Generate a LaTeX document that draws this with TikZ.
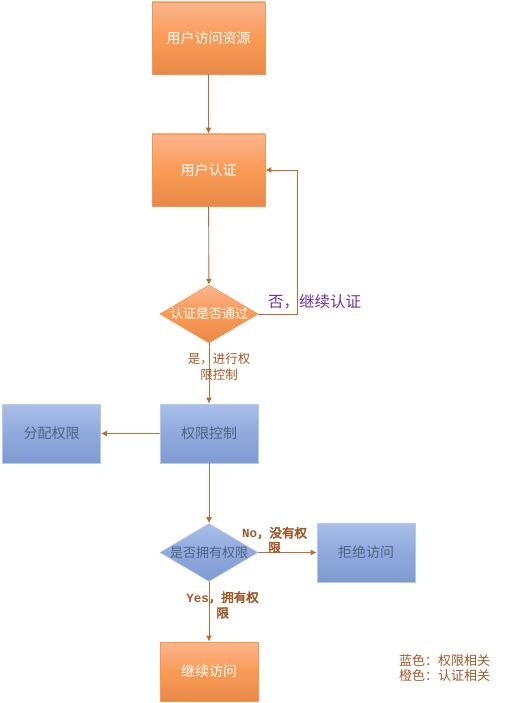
\documentclass[tikz,border=0pt]{standalone}
\usepackage{fontspec}
\setmainfont{Noto Sans CJK SC}[AutoFakeBold=3.5]
\newfontfamily\monofnt{Liberation Mono}
\usetikzlibrary{shapes.geometric,arrows.meta,calc}
\definecolor{orT}{HTML}{FBB48E}
\definecolor{orM}{HTML}{F99A55}
\definecolor{orB}{HTML}{E8894A}
\definecolor{orD}{HTML}{F79646}
\definecolor{blT}{HTML}{AABFE8}
\definecolor{blM}{HTML}{8FA9DD}
\definecolor{blB}{HTML}{7E9BCF}
\definecolor{blD}{HTML}{B6C8EA}
\definecolor{arrc}{HTML}{BF6A30}
\definecolor{lblc}{HTML}{A05A28}
\definecolor{purp}{HTML}{7030A0}
\definecolor{bltxt}{HTML}{526482}
\begin{document}
\begin{tikzpicture}[x=1pt,y=-1pt,
  obox/.style={draw=orD, line width=0.8pt, top color=orT, bottom color=orB, middle color=orM, text=white, font=\fontsize{14}{16}\selectfont, inner sep=0pt},
  bbox/.style={draw=blD, line width=0.8pt, top color=blT, bottom color=blB, middle color=blM, text=bltxt, font=\fontsize{14}{16}\selectfont, minimum width=98pt, minimum height=59pt, inner sep=0pt},
  odia/.style={diamond, draw=orD, line width=0.6pt, top color=orT, bottom color=orB, middle color=orM, minimum width=98pt, minimum height=58pt, inner sep=0pt},
  bdia/.style={diamond, draw=blD, line width=0.6pt, top color=blT, bottom color=blB, middle color=blM, minimum width=98pt, minimum height=58pt, inner sep=0pt},
  arr/.style={draw=arrc, line width=0.9pt, -{Latex[length=6pt,width=6pt]}},
  lbl/.style={text=lblc, font=\fontsize{12.5}{16}\selectfont, align=center, inner sep=0pt},
]
\useasboundingbox (0,0) rectangle (520,703);
\fill[white] (0,0) rectangle (520,703);

\node[obox, minimum width=113pt, minimum height=72pt] (b1) at (208.5,38) {用户访问资源};
\node[obox, minimum width=113pt, minimum height=72pt] (b2) at (208.5,170) {用户认证};
\node[odia, label={[text=white, font=\fontsize{13}{16}\selectfont]center:认证是否通过}] (d1) at (209,314) {};
\node[bbox] (pc) at (209,433.5) {权限控制};
\node[bbox] (fp) at (51.5,433.5) {分配权限};
\node[bdia, label={[text=bltxt, font=\fontsize{13}{16}\selectfont]center:是否拥有权限}] (d2) at (209,552.5) {};
\node[bbox] (jj) at (366,552.5) {拒绝访问};
\node[obox, minimum width=98pt, minimum height=59pt] (jx) at (209,671.5) {继续访问};

\draw[arr] (b1) -- (b2);
\draw[arr] (b2) -- (d1);
\draw[arr] (d1.east) -| ([xshift=32pt]b2.east) -- (b2.east);
\draw[arr] (d1) -- (pc);
\draw[arr] (pc) -- (fp);
\draw[arr] (pc) -- (d2);
\draw[arr] (d2) -- (jj);
\draw[arr] (d2) -- (jx);

\node[text=purp, font=\fontsize{15.5}{18}\selectfont, inner sep=0pt] (l1) at (314.5,302) {否，继续认证};
\node[lbl] (l2) at (219,367) {是，进行权\\限控制};
\node[lbl, font=\fontsize{12.5}{14.5}\selectfont\bfseries] (l3) at (274.5,540) {{\monofnt\bfseries No}，没有权\\限};
\node[lbl, font=\fontsize{12.5}{15.5}\selectfont\bfseries] (l4) at (222.5,605) {{\monofnt\bfseries Yes}，拥有权\\限};
\node[lbl, font=\fontsize{13}{14.5}\selectfont, align=left, anchor=west] (lg) at (399,668) {蓝色：权限相关\\橙色：认证相关};
\end{tikzpicture}
\end{document}
